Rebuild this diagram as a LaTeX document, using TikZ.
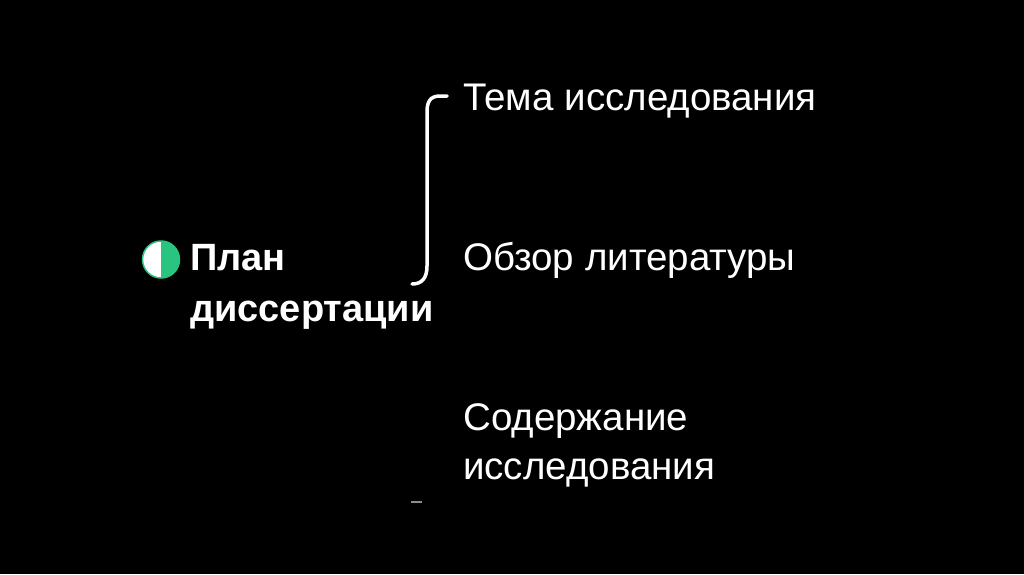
\documentclass[tikz,border=0pt]{standalone}
\usepackage{fontspec}
\setmainfont{Liberation Sans}
\definecolor{bulletgreen}{RGB}{40,196,128}
\definecolor{dashgray}{RGB}{140,140,140}
\tikzset{
  item/.style={anchor=base west, inner sep=0pt, text=white, align=left,
    font=\fontsize{38.5}{49}\selectfont},
  title/.style={anchor=base west, inner sep=0pt, text=white, align=left,
    font=\fontsize{38}{51}\selectfont\bfseries},
  brace/.style={draw=white, line width=3.5pt, line cap=round},
}
\begin{document}
\begin{tikzpicture}[x=1pt,y=-1pt]
\fill[black] (0,0) rectangle (1024,574);
\useasboundingbox (0,0) rectangle (1024,574);
% bullet
\coordinate (bc) at (161,259.5);
\begin{scope}
  \clip (130,230) rectangle (161,290);
  \fill[white] (bc) circle[radius=18.5];
\end{scope}
\begin{scope}
  \clip (161,230) rectangle (190,290);
  \fill[bulletgreen] (bc) circle[radius=18.5];
\end{scope}
\draw[bulletgreen, line width=1.5pt] (bc) circle[radius=18.5];
% title
\node[title] (plan) at (190,321) {План\\диссертации};
% bracket
\coordinate (btop) at (447,96);
\coordinate (bbot) at (412,284);
\draw[brace] (btop) -- (440,96) .. controls (430,96) and (427,102) .. (427,112)
  -- (427,266) .. controls (427,278) and (422,284) .. (bbot);
% items
\node[item] (t1) at (463,110) {Тема исследования};
\node[item] (t2) at (463,270) {Обзор литературы};
\node[item] (t3) at (463,479) {Содержание\\исследования};
% small dash
\draw[dashgray, line width=1.5pt] (411,502) -- (422,502);
\end{tikzpicture}
\end{document}
